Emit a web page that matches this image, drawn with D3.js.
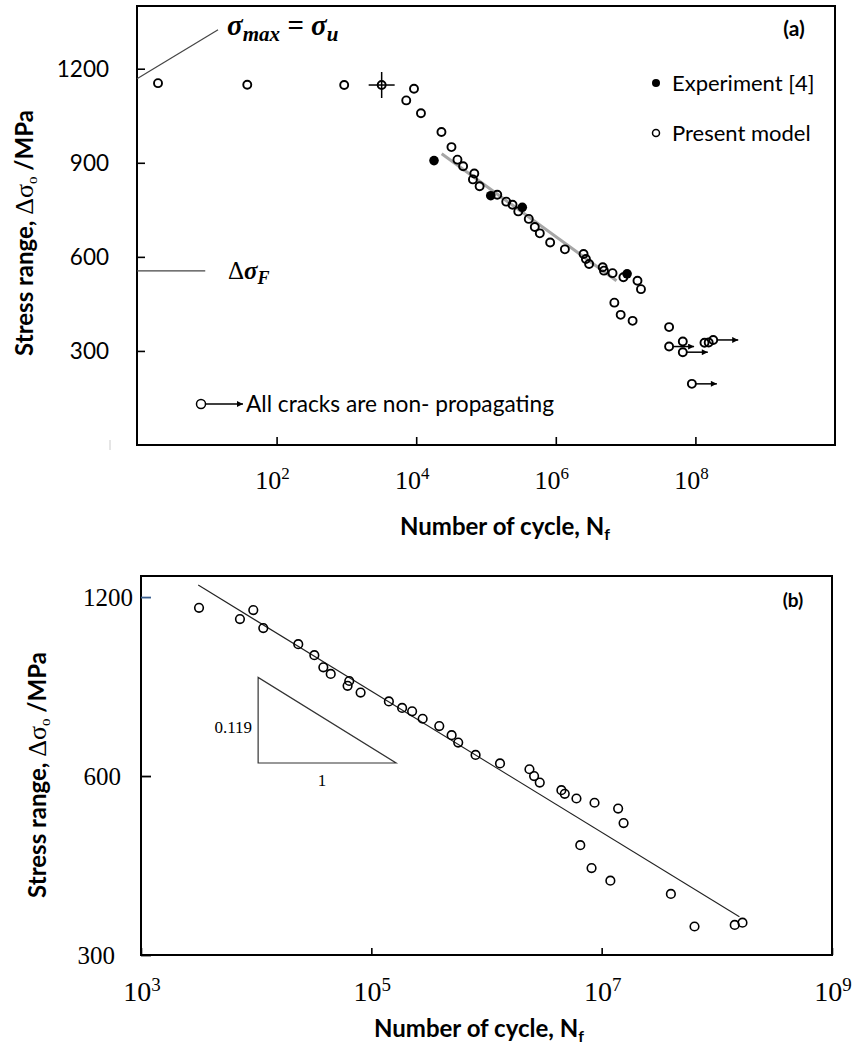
<!DOCTYPE html>
<html><head><meta charset="utf-8">
<script src="https://cdn.jsdelivr.net/npm/d3@7"></script>
<style>body{margin:0;background:#fff}svg{display:block}</style>
</head><body>
<svg id="c" width="856" height="1046"></svg>
<script>
// ---------- DATA ----------
// Panel (a): present model, open circles
const aModelN = [2, 38, 930, 9300, 7200, 11700, 23000, 32000, 39000, 47000, 68000, 65000, 81000,
  145000, 195000, 240000, 290000, 410000, 500000, 590000, 830000, 1.35e6, 2.5e6, 2.7e6, 3.0e6,
  4.7e6, 4.9e6, 6.5e6, 9.3e6, 1.48e7, 1.66e7, 6.9e6, 8.5e6, 1.26e7, 4.2e7, 6.6e7, 1.35e8, 1.55e8];
const aModelS = [1154, 1149, 1148, 1136, 1099, 1058, 998, 950, 910, 889, 866, 847, 825,
  798, 776, 766, 745, 721, 695, 675, 646, 624, 609, 593, 577,
  567, 556, 548, 535, 524, 497, 454, 415, 396, 376, 330, 326, 327];
// Panel (a): point marked with cross-hair
const aCrossN = [3200];
const aCrossS = [1148];
// Panel (a): non-propagating (run-out) points, open circles with arrows
const aRunoutN = [4.2e7, 6.6e7, 1.8e8, 8.9e7];
const aRunoutS = [314, 296, 335, 195];
// Panel (a): experiment [4], filled circles
const aExpN = [18000, 117000, 331000, 1.05e7];
const aExpS = [907, 795, 758, 546];
// Panel (a): grey trend line end points
const aTrendN = [23200, 7.4e6];
const aTrendS = [929, 524];
// Panel (a): annotation lines
const aSigmaMaxN = [1, 14.5];
const aSigmaMaxS = [1168, 1324];
const aFatigueN = [1, 9.5];
const aFatigueS = [555, 555];
// Panel (a) ticks
const aYTicks = [300, 600, 900, 1200];
const aXTickExp = [2, 4, 6, 8];

// Panel (b): present model points
const bN = [3190, 7230, 9440, 11530, 23200, 32000, 38300, 44400, 64300, 62200, 80700,
  142000, 185000, 226000, 279000, 389000, 498000, 568000, 804000, 1.31e6, 2.36e6, 2.59e6,
  2.90e6, 4.47e6, 4.78e6, 6.04e6, 8.67e6, 1.39e7, 1.55e7, 6.52e6, 8.17e6, 1.19e7, 3.99e7,
  6.40e7, 1.43e8, 1.67e8];
const bS = [1151, 1102, 1141, 1064, 1000, 958, 914, 891, 867, 851, 829,
  801, 781, 771, 749, 728, 703, 683, 651, 630, 616, 600,
  585, 568, 560, 550, 541, 529, 500, 459, 420, 400, 380,
  335, 337, 340];
// Panel (b): fitted line (slope 0.119) end points
const bFitN = [3140, 1.57e8];
const bFitS = [1257, 348];
// Panel (b): slope triangle corners
const bTriN = [10400, 164000];
const bTriS = [879, 631];
const bYTicks = [300, 600, 1200];
const bXTickExp = [3, 5, 7, 9];

// ---------- DRAW ----------
const svg = d3.select("#c");
const sans = "Lato, 'Open Sans', sans-serif";
const serif = "'Liberation Serif', 'DejaVu Serif', serif";

svg.append("defs").append("marker")
  .attr("id", "ah").attr("viewBox", "0 0 10 10").attr("refX", 10).attr("refY", 5)
  .attr("markerWidth", 8).attr("markerHeight", 6).attr("markerUnits", "userSpaceOnUse")
  .attr("orient", "auto")
  .append("path").attr("d", "M0,0 L10,5 L0,10 Z").attr("fill", "#000");

// ===== Panel (a) =====
const ax = d3.scaleLog().domain([1, 1e10]).range([137, 835]);
const ay = d3.scaleLinear().domain([0, 1400]).range([445, 6]);

svg.append("rect").attr("x", 137).attr("y", 6).attr("width", 698).attr("height", 439)
  .attr("fill", "none").attr("stroke", "#000").attr("stroke-width", 2);

const gAy = svg.append("g").attr("transform", "translate(137,0)")
  .call(d3.axisRight(ay).tickValues(aYTicks).tickSize(8).tickFormat(""));
gAy.select(".domain").remove();
gAy.selectAll("line").attr("stroke", "#000").attr("stroke-width", 1.6);
svg.append("g").selectAll("text").data(aYTicks).join("text")
  .attr("x", 109).attr("y", d => ay(d)).attr("dy", "0.36em")
  .attr("text-anchor", "end").attr("font-family", sans).attr("font-size", 22.5)
  .text(d => d);

const gAx = svg.append("g").attr("transform", "translate(0,445)")
  .call(d3.axisTop(ax).tickValues(aXTickExp.map(e => Math.pow(10, e))).tickSize(8).tickFormat(""));
gAx.select(".domain").remove();
gAx.selectAll("line").attr("stroke", "#000").attr("stroke-width", 1.6);
const aXl = svg.append("g").selectAll("text").data(aXTickExp).join("text")
  .attr("x", d => ax(Math.pow(10, d)) - 4).attr("y", 489)
  .attr("text-anchor", "middle").attr("font-family", serif).attr("font-size", 26);
aXl.append("tspan").text("10");
aXl.append("tspan").attr("font-size", 17).attr("dy", -10).text(d => d);

// faint mark left of axis
svg.append("line").attr("x1", 110).attr("x2", 110).attr("y1", 440).attr("y2", 450)
  .attr("stroke", "#ccc").attr("stroke-width", 1);

// annotation lines
svg.append("line").attr("x1", ax(aSigmaMaxN[0])).attr("y1", ay(aSigmaMaxS[0]))
  .attr("x2", ax(aSigmaMaxN[1])).attr("y2", ay(aSigmaMaxS[1]))
  .attr("stroke", "#444").attr("stroke-width", 1.2);
svg.append("line").attr("x1", ax(aFatigueN[0])).attr("y1", ay(aFatigueS[0]))
  .attr("x2", ax(aFatigueN[1])).attr("y2", ay(aFatigueS[1]))
  .attr("stroke", "#444").attr("stroke-width", 1.2);

const tMax = svg.append("text").attr("x", 227).attr("y", 35)
  .attr("font-family", serif).attr("font-weight", "bold").attr("font-style", "italic").attr("font-size", 29);
tMax.append("tspan").text("σ");
tMax.append("tspan").attr("font-size", 21).attr("dy", 6).text("max");
tMax.append("tspan").attr("dy", -6).text(" = σ");
tMax.append("tspan").attr("font-size", 21).attr("dy", 6).text("u");

const tF = svg.append("text").attr("x", 228).attr("y", 279)
  .attr("font-family", serif).attr("font-size", 25);
tF.append("tspan").text("Δ");
tF.append("tspan").attr("font-weight", "bold").attr("font-style", "italic").text("σ");
tF.append("tspan").attr("font-weight", "bold").attr("font-style", "italic")
  .attr("font-size", 18).attr("dy", 5).text("F");

// grey trend line
svg.append("line").attr("x1", ax(aTrendN[0])).attr("y1", ay(aTrendS[0]))
  .attr("x2", ax(aTrendN[1])).attr("y2", ay(aTrendS[1]))
  .attr("stroke", "#a6a6a6").attr("stroke-width", 3);

// model points
svg.append("g").selectAll("circle").data(aModelN).join("circle")
  .attr("cx", d => ax(d)).attr("cy", (d, i) => ay(aModelS[i])).attr("r", 4)
  .attr("fill", "none").attr("stroke", "#000").attr("stroke-width", 1.9);

// cross-hair point
aCrossN.forEach((n, i) => {
  const cx = ax(n), cy = ay(aCrossS[i]);
  svg.append("line").attr("x1", cx - 13).attr("x2", cx + 13).attr("y1", cy).attr("y2", cy)
    .attr("stroke", "#000").attr("stroke-width", 1.5);
  svg.append("line").attr("x1", cx).attr("x2", cx).attr("y1", cy - 13).attr("y2", cy + 13)
    .attr("stroke", "#000").attr("stroke-width", 1.5);
  svg.append("circle").attr("cx", cx).attr("cy", cy).attr("r", 4)
    .attr("fill", "none").attr("stroke", "#000").attr("stroke-width", 1.9);
});

// run-out points with arrows
const gRun = svg.append("g");
aRunoutN.forEach((n, i) => {
  const cx = ax(n), cy = ay(aRunoutS[i]);
  gRun.append("line").attr("x1", cx + 4).attr("x2", cx + 25).attr("y1", cy).attr("y2", cy)
    .attr("stroke", "#000").attr("stroke-width", 1.5).attr("marker-end", "url(#ah)");
  gRun.append("circle").attr("cx", cx).attr("cy", cy).attr("r", 4)
    .attr("fill", "none").attr("stroke", "#000").attr("stroke-width", 1.9);
});

// experiment points
svg.append("g").selectAll("circle").data(aExpN).join("circle")
  .attr("cx", d => ax(d)).attr("cy", (d, i) => ay(aExpS[i])).attr("r", 4.8).attr("fill", "#000");

// legend
svg.append("circle").attr("cx", 656).attr("cy", 83).attr("r", 4).attr("fill", "#000");
svg.append("text").attr("x", 672).attr("y", 91).attr("font-family", sans).attr("font-size", 22).text("Experiment [4]");
svg.append("circle").attr("cx", 656).attr("cy", 133).attr("r", 3.5).attr("fill", "none")
  .attr("stroke", "#000").attr("stroke-width", 1.5);
svg.append("text").attr("x", 672).attr("y", 141).attr("font-family", sans).attr("font-size", 22).text("Present model");
svg.append("text").attr("x", 794).attr("y", 36).attr("text-anchor", "middle").attr("font-family", sans)
  .attr("font-weight", "bold").attr("font-size", 21).text("(a)");

svg.append("circle").attr("cx", 201).attr("cy", 404).attr("r", 4.5).attr("fill", "none")
  .attr("stroke", "#000").attr("stroke-width", 1.5);
svg.append("line").attr("x1", 206).attr("x2", 243).attr("y1", 404).attr("y2", 404)
  .attr("stroke", "#000").attr("stroke-width", 1.5).attr("marker-end", "url(#ah)");
svg.append("text").attr("x", 246).attr("y", 412).attr("font-family", sans).attr("font-size", 22.7)
  .text("All cracks are non- propagating");

// axis titles
function xTitle(x, y) {
  const t = svg.append("text").attr("x", x).attr("y", y).attr("text-anchor", "middle")
    .attr("font-family", sans).attr("font-weight", "bold").attr("font-size", 24);
  t.append("tspan").text("Number of cycle, N");
  t.append("tspan").attr("font-size", 16).attr("dy", 5).text("f");
}
function yTitle(x, y) {
  const t = svg.append("text").attr("transform", `translate(${x},${y}) rotate(-90)`)
    .attr("text-anchor", "middle").attr("font-family", sans).attr("font-size", 24);
  t.append("tspan").attr("font-weight", "bold").text("Stress range, ");
  t.append("tspan").attr("font-family", serif).attr("font-size", 26).text("Δσ");
  t.append("tspan").attr("font-family", serif).attr("font-size", 15).attr("dy", 4).text("o");
  t.append("tspan").attr("font-weight", "bold").attr("dy", -4).text(" /MPa");
}
xTitle(505, 535);
yTitle(33, 233);

// ===== Panel (b) =====
const bx = d3.scaleLog().domain([1e3, 1e9]).range([141, 832]);
const by = d3.scaleLog().domain([300, 1302]).range([955, 576]);

svg.append("rect").attr("x", 141).attr("y", 576).attr("width", 691).attr("height", 379)
  .attr("fill", "none").attr("stroke", "#000").attr("stroke-width", 2);

const gBy = svg.append("g").attr("transform", "translate(141,0)")
  .call(d3.axisRight(by).tickValues(bYTicks).tickSize(10).tickFormat(""));
gBy.select(".domain").remove();
gBy.selectAll("line").attr("stroke", d => d === 1200 ? "#3a5f8f" : "#000").attr("stroke-width", 1.8);
const bYRight = {300: 115, 600: 121, 1200: 133};
svg.append("g").selectAll("text").data(bYTicks).join("text")
  .attr("x", d => bYRight[d]).attr("y", d => by(d)).attr("dy", "0.35em")
  .attr("text-anchor", "end").attr("font-family", serif).attr("font-size", 25)
  .text(d => d);

const gBx = svg.append("g").attr("transform", "translate(0,955)")
  .call(d3.axisTop(bx).tickValues(bXTickExp.map(e => Math.pow(10, e))).tickSize(7).tickFormat(""));
gBx.select(".domain").remove();
gBx.selectAll("line").attr("stroke", "#000").attr("stroke-width", 1.6);
const bXl = svg.append("g").selectAll("text").data(bXTickExp).join("text")
  .attr("x", d => bx(Math.pow(10, d)) + 1).attr("y", 1001)
  .attr("text-anchor", "middle").attr("font-family", serif).attr("font-size", 28);
bXl.append("tspan").text("10");
bXl.append("tspan").attr("font-size", 19).attr("dy", -10).text(d => d);

// fitted line
svg.append("line").attr("x1", bx(bFitN[0])).attr("y1", by(bFitS[0]))
  .attr("x2", bx(bFitN[1])).attr("y2", by(bFitS[1]))
  .attr("stroke", "#222").attr("stroke-width", 1.1);

// slope triangle
svg.append("path")
  .attr("d", `M${bx(bTriN[0])},${by(bTriS[0])} L${bx(bTriN[0])},${by(bTriS[1])} L${bx(bTriN[1])},${by(bTriS[1])} Z`)
  .attr("fill", "none").attr("stroke", "#333").attr("stroke-width", 1.2);
svg.append("text").attr("x", 252).attr("y", 733).attr("text-anchor", "end")
  .attr("font-family", serif).attr("font-size", 17).text("0.119");
svg.append("text").attr("x", 322).attr("y", 786).attr("text-anchor", "middle")
  .attr("font-family", serif).attr("font-size", 17).text("1");

// points
svg.append("g").selectAll("circle").data(bN).join("circle")
  .attr("cx", d => bx(d)).attr("cy", (d, i) => by(bS[i])).attr("r", 4.3)
  .attr("fill", "none").attr("stroke", "#000").attr("stroke-width", 1.6);

svg.append("text").attr("x", 793).attr("y", 607).attr("text-anchor", "middle").attr("font-family", sans)
  .attr("font-weight", "bold").attr("font-size", 19).text("(b)");

xTitle(479, 1037);
yTitle(46, 775);
</script>
</body></html>
